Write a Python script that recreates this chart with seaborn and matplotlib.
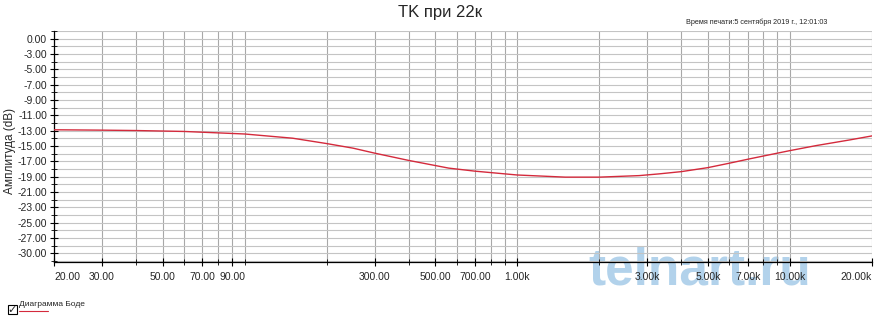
import matplotlib
matplotlib.use("Agg")
import matplotlib.pyplot as plt
import seaborn as sns
import numpy as np
import pandas as pd
from matplotlib.patches import Rectangle
from matplotlib.lines import Line2D

# ---- data ----
freq_hz = [20, 30, 40, 60, 100, 150, 200, 250, 300, 400, 560, 700, 1000, 1500,
           2000, 2800, 3300, 4000, 5000, 6000, 7100, 9000, 10000, 12500, 16600, 20000]
gain_db = [-12.90, -12.95, -13.00, -13.12, -13.45, -14.00, -14.70, -15.30, -15.95,
           -16.90, -17.90, -18.30, -18.80, -19.08, -19.08, -18.88, -18.66, -18.36,
           -17.84, -17.26, -16.70, -15.95, -15.62, -14.96, -14.22, -13.70]

xtick_vals = [20, 30, 50, 70, 90, 300, 500, 700, 1000, 3000, 5000, 7000, 10000, 20000]
xtick_labels = ["20.00", "30.00", "50.00", "70.00", "90.00", "300.00", "500.00",
                "700.00", "1.00k", "3.00k", "5.00k", "7.00k", "10.00k", "20.00k"]
ytick_vals = [-1, -3, -5, -7, -9, -11, -13, -15, -17, -19, -21, -23, -25, -27, -29]
ytick_labels = ["0.00", "-3.00", "-5.00", "-7.00", "-9.00", "-11.00", "-13.00", "-15.00",
                "-17.00", "-19.00", "-21.00", "-23.00", "-25.00", "-27.00", "-30.00"]

title = "TK при 22к"
ylabel = "Амплитуда (dB)"
timestamp = "Время печати:5 сентября 2019 г., 12:01:03"
legend_label = "Диаграмма Боде"
watermark = "telnart.ru"

df = pd.DataFrame({"freq": freq_hz, "gain": gain_db})

sns.set_style("white")
plt.rcParams["font.family"] = ["Liberation Sans", "DejaVu Sans"]

fig = plt.figure(figsize=(8.77, 3.23), dpi=100)
ax = fig.add_axes([54 / 877, 61 / 323, (872 - 54) / 877, (292.5 - 61) / 323])
ax.set_facecolor("none")

ax.set_xscale("log")
ax.set_xlim(20, 20000)
ax.set_ylim(-30.15, 0.05)

# grid
grid_x = [m * 10 ** e for e in range(1, 5) for m in range(1, 10) if 20 <= m * 10 ** e <= 20000]
for gx in grid_x:
    ax.axvline(gx, color="#a8a8a8", lw=0.8, zorder=0)
for gy in range(-30, 1):
    ax.axhline(gy, color="#c4c4c4", lw=0.8, zorder=0)

sns.lineplot(data=df, x="freq", y="gain", ax=ax, color="#d42a3c", lw=1.0, zorder=3)

ax.set_xticks(grid_x, minor=True)
ax.set_xticks(xtick_vals)
ax.set_xticklabels(xtick_labels, fontsize=7.5)
ax.xaxis.set_minor_formatter(matplotlib.ticker.NullFormatter())
ax.set_yticks(ytick_vals)
ax.set_yticklabels(ytick_labels, fontsize=7.5)
ax.set_yticks(list(range(-30, 1, 2)), minor=True)
ax.tick_params(axis="both", which="major", direction="inout", length=6, width=0.8,
               color="black", pad=2, bottom=True, left=True)
ax.tick_params(axis="both", which="minor", direction="inout", length=4, width=0.6,
               color="black", bottom=True, left=True)
ax.tick_params(axis="x", which="major", pad=4)
xt = ax.get_xticklabels()
xt[0].set_ha("left")
xt[-1].set_ha("right")
ax.set_xlabel("")
ax.set_ylabel("")

for s in ["top", "right"]:
    ax.spines[s].set_visible(False)
for s in ["left", "bottom"]:
    ax.spines[s].set_color("black")
    ax.spines[s].set_linewidth(0.9)

fig.text(440 / 877, 1 - 13 / 323, title, ha="center", va="center", fontsize=12)
fig.text(686 / 877, 1 - 22 / 323, timestamp, ha="left", va="center", fontsize=5.2)
fig.text(10 / 877, 1 - 151 / 323, ylabel, ha="center", va="center", rotation=90, fontsize=8.5)

# watermark (behind the axes content)
fig.text(700 / 877, 1 - 271 / 323, watermark, ha="center", va="center", fontsize=37,
         fontweight="heavy", color="#7fb5de", alpha=0.6, zorder=-1)

# legend (checkbox style)
fig.patches.append(Rectangle((8 / 877, 1 - 314 / 323), 9 / 877, 9 / 323,
                             transform=fig.transFigure, fill=False, ec="black", lw=0.8))
fig.text(12.5 / 877, 1 - 309.5 / 323, "✓", ha="center", va="center", fontsize=8,
         family="DejaVu Sans", fontweight="bold")
fig.text(19 / 877, 1 - 304 / 323, legend_label, ha="left", va="center", fontsize=6)
fig.lines.append(Line2D([19 / 877, 48 / 877], [1 - 311 / 323, 1 - 311 / 323],
                        transform=fig.transFigure, color="#d42a3c", lw=0.8))

fig.savefig("out.png", dpi=100)
